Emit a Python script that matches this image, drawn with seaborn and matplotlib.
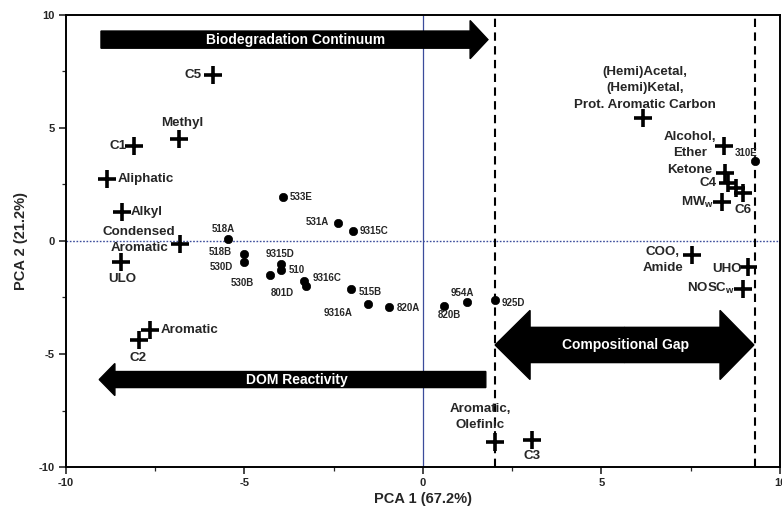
import numpy as np
import pandas as pd
import matplotlib
matplotlib.use("Agg")
import matplotlib.pyplot as plt
import matplotlib.patches as mpatches
import seaborn as sns

# Variable loadings (crosses)
var_names = ["C5", "Methyl", "C1", "Aliphatic", "Alkyl", "Condensed\nAromatic", "ULO",
             "Aromatic", "C2", "Aromatic,\nOlefinic", "C3",
             "(Hemi)Acetal,\n(Hemi)Ketal,\nProt. Aromatic Carbon", "Alcohol,\nEther",
             "Ketone", "C4", "", "C6", "MW$_w$", "COO,\nAmide", "UHO", "NOSC$_w$"]
var_x = [-5.88, -6.83, -8.10, -8.85, -8.43, -6.80, -8.46, -7.65, -7.96, 2.02, 3.05,
         6.16, 8.43, 8.46, 8.54, 8.77, 8.96, 8.38, 7.53, 9.10, 8.96]
var_y = [7.33, 4.53, 4.22, 2.75, 1.29, -0.13, -0.93, -3.96, -4.36, -8.89, -8.80,
         5.42, 4.22, 3.02, 2.58, 2.36, 2.13, 1.72, -0.62, -1.17, -2.14]

# Sample scores (dots)
smp_names = ["533E", "531A", "9315C", "518A", "518B", "530D", "9315D", "510", "530B",
             "801D", "9316C", "515B", "9316A", "820A", "820B", "954A", "925D", "310E"]
smp_x = [-3.92, -2.38, -1.96, -5.46, -5.01, -5.01, -3.98, -3.98, -4.29,
         -3.33, -3.28, -2.02, -1.54, -0.95, 0.59, 1.23, 2.02, 9.30]
smp_y = [1.96, 0.80, 0.44, 0.09, -0.58, -0.93, -1.02, -1.29, -1.51,
         -1.78, -2.00, -2.13, -2.80, -2.93, -2.89, -2.71, -2.62, 3.56]

# label placement: (dx px, dy px, ha)
var_lbl = {
    "C5": (-11, 0, "right"), "Methyl": (3, 16, "center"), "C1": (-7, 0, "right"),
    "Aliphatic": (11, 0, "left"), "Alkyl": (9, 0, "left"),
    "Condensed\nAromatic": (-41, 4, "center"), "ULO": (1, -17, "center"),
    "Aromatic": (11, 0, "left"), "C2": (-1, -18, "center"),
    "Aromatic,\nOlefinic": (-15, 25, "center"), "C3": (0, -16, "center"),
    "(Hemi)Acetal,\n(Hemi)Ketal,\nProt. Aromatic Carbon": (2, 30, "center"),
    "Alcohol,\nEther": (-34, 1, "center"), "Ketone": (-13, 3, "right"),
    "C4": (-11, 0, "right"), "C6": (0, -17, "center"), "MW$_w$": (-8, 0, "right"),
    "COO,\nAmide": (-29, -5, "center"), "UHO": (-6, -2, "right"),
    "NOSC$_w$": (-8, 1, "right"),
}
smp_lbl = {
    "533E": (7, 0, "left"), "531A": (-9, 1, "right"), "9315C": (7, 0, "left"),
    "518A": (-5, 10, "center"), "518B": (-12, 2, "right"), "530D": (-11, -5, "right"),
    "9315D": (-1, 10, "center"), "510": (8, 0, "left"), "530B": (-28, -8, "center"),
    "801D": (-22, -12, "center"), "9316C": (7, 8, "left"), "515B": (8, -3, "left"),
    "9316A": (-30, -9, "center"), "820A": (8, -1, "left"), "820B": (5, -9, "center"),
    "954A": (-5, 9, "center"), "925D": (7, -3, "left"), "310E": (-9, 8, "center"),
}

sns.set_style("ticks")
plt.rcParams["font.family"] = ["Liberation Sans", "DejaVu Sans"]
plt.rcParams["font.weight"] = "bold"
plt.rcParams["axes.unicode_minus"] = False
plt.rcParams["mathtext.fontset"] = "custom"
plt.rcParams["mathtext.rm"] = "Liberation Sans:bold"
plt.rcParams["mathtext.bf"] = "Liberation Sans:bold"
plt.rcParams["mathtext.it"] = "Liberation Sans:bold"
plt.rcParams["mathtext.default"] = "rm"

df_var = pd.DataFrame({"x": var_x, "y": var_y, "name": var_names})
df_smp = pd.DataFrame({"x": smp_x, "y": smp_y, "name": smp_names})

fig, ax = plt.subplots(figsize=(7.82, 5.08), dpi=100)
fig.subplots_adjust(left=0.0844, right=0.9974, bottom=0.0807, top=0.9705)

# reference lines
ax.axvline(0, color="#3b4c9b", lw=0.9, zorder=0)
ax.axhline(0, color="#3b4c9b", lw=1.0, ls=(0, (1.2, 1.2)), zorder=0)
for xv in [2.02, 9.3]:
    ax.axvline(xv, color="black", lw=1.5, ls=(0, (4, 2.6)), zorder=1)

# arrows
blk = dict(color="black", length_includes_head=True, zorder=2)
ax.add_patch(mpatches.FancyArrow(-9.02, 8.91, 10.84, 0, width=0.76,
                                 head_width=1.69, head_length=0.5, **blk))
ax.add_patch(mpatches.FancyArrow(1.76, -6.13, -10.83, 0, width=0.71,
                                 head_width=1.42, head_length=0.44, **blk))
ax.add_patch(mpatches.FancyArrow(5.65, -4.6, -3.63, 0, width=1.56,
                                 head_width=3.06, head_length=0.98, **blk))
ax.add_patch(mpatches.FancyArrow(5.65, -4.6, 3.62, 0, width=1.56,
                                 head_width=3.06, head_length=0.95, **blk))
ax.text(-3.58, 8.91, "Biodegradation Continuum", color="white", fontsize=10,
        fontweight="bold", ha="center", va="center", zorder=3)
ax.text(-3.53, -6.13, "DOM Reactivity", color="white", fontsize=10,
        fontweight="bold", ha="center", va="center", zorder=3)
ax.text(5.66, -4.58, "Compositional Gap", color="white", fontsize=10,
        fontweight="bold", ha="center", va="center", zorder=3)

sns.scatterplot(data=df_smp, x="x", y="y", ax=ax, color="black", s=36,
                edgecolor="black", linewidth=0.5, zorder=4)
sns.scatterplot(data=df_var, x="x", y="y", ax=ax, color="black", marker="+",
                s=160, linewidth=2.6, zorder=4)

for n, x, y in zip(var_names, var_x, var_y):
    if n not in var_lbl:
        continue
    dx, dy, ha = var_lbl[n]
    ax.annotate(n, (x, y), xytext=(dx, dy), textcoords="offset pixels",
                ha=ha, va="center", fontsize=9.6, fontweight="bold",
                multialignment="center", linespacing=1.45, zorder=5)

for n, x, y in zip(smp_names, smp_x, smp_y):
    dx, dy, ha = smp_lbl[n]
    ax.annotate(n, (x, y), xytext=(dx, dy), textcoords="offset pixels",
                ha=ha, va="center", fontsize=7, fontweight="bold", zorder=5)

ax.set_xlim(-10, 10)
ax.set_ylim(-10, 10)
ax.set_xticks([-10, -5, 0, 5, 10])
ax.set_yticks([-10, -5, 0, 5, 10])
ax.set_xticks([-7.5, -2.5, 2.5, 7.5], minor=True)
ax.set_yticks([-7.5, -2.5, 2.5, 7.5], minor=True)
ax.tick_params(which="major", length=5, width=1.2, labelsize=8, direction="out", pad=3)
ax.tick_params(which="minor", length=3, width=0.9, direction="out")
for lab in ax.get_xticklabels() + ax.get_yticklabels():
    lab.set_fontweight("bold")
for sp in ax.spines.values():
    sp.set_visible(True)
    sp.set_linewidth(1.4)
    sp.set_color("black")

ax.set_xlabel("PCA 1 (67.2%)", fontsize=10.5, fontweight="bold", labelpad=3)
ax.set_ylabel("PCA 2 (21.2%)", fontsize=10.5, fontweight="bold", labelpad=8)

fig.savefig("out.png", dpi=100)
